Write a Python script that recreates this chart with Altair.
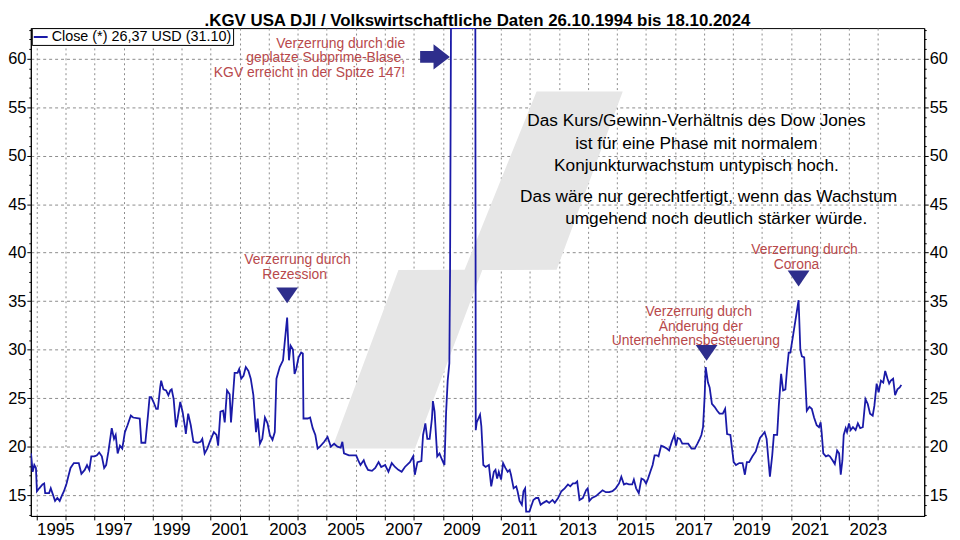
import altair as alt
import pandas as pd

FONT = "Liberation Sans"
LINE = "#1a1aa8"
NAVY = "#2e2e8c"
RED = "#b8494b"
GRID = "#8c8c8c"

TITLE = ".KGV USA DJI / Volkswirtschaftliche Daten 26.10.1994 bis 18.10.2024"
LEGEND_LABEL = "Close (*) 26,37 USD (31.10)"

# KGV series (decimal year, value)
years = [
    1994.807, 1994.864, 1994.921, 1994.977, 1995.011, 1995.091, 1995.204, 1995.261, 1995.295, 1995.431,
    1995.488, 1995.545, 1995.636, 1995.715, 1995.795, 1995.863, 1995.942, 1996.033, 1996.090, 1996.169,
    1996.283, 1996.453, 1996.544, 1996.658, 1996.737, 1996.817, 1996.885, 1996.998, 1997.078, 1997.157,
    1997.248, 1997.328, 1997.396, 1997.475, 1997.589, 1997.668, 1997.725, 1997.793, 1997.872, 1997.952,
    1998.043, 1998.133, 1998.247, 1998.327, 1998.554, 1998.610, 1998.747, 1998.837, 1998.894, 1998.951,
    1999.030, 1999.121, 1999.178, 1999.258, 1999.292, 1999.371, 1999.462, 1999.541, 1999.609, 1999.655,
    1999.723, 1999.802, 1999.859, 1999.950, 2000.030, 2000.120, 2000.143, 2000.223, 2000.313, 2000.404,
    2000.540, 2000.654, 2000.711, 2000.790, 2000.881, 2000.995, 2001.108, 2001.199, 2001.256, 2001.335,
    2001.426, 2001.483, 2001.562, 2001.653, 2001.699, 2001.755, 2001.824, 2001.925, 2001.982, 2002.050,
    2002.130, 2002.209, 2002.300, 2002.380, 2002.470, 2002.561, 2002.618, 2002.697, 2002.777, 2002.868,
    2002.959, 2003.038, 2003.129, 2003.208, 2003.265, 2003.379, 2003.492, 2003.549, 2003.634, 2003.697,
    2003.754, 2003.833, 2003.890, 2003.947, 2004.027, 2004.118, 2004.175, 2004.197, 2004.345, 2004.425,
    2004.515, 2004.606, 2004.685, 2004.765, 2004.912, 2005.026, 2005.083, 2005.139, 2005.253, 2005.367,
    2005.480, 2005.537, 2005.593, 2005.764, 2006.013, 2006.081, 2006.161, 2006.274, 2006.331, 2006.422,
    2006.558, 2006.671, 2006.785, 2006.876, 2007.012, 2007.125, 2007.239, 2007.352, 2007.466, 2007.580,
    2007.693, 2007.864, 2007.977, 2008.034, 2008.125, 2008.261, 2008.318, 2008.397, 2008.465, 2008.545,
    2008.624, 2008.658, 2008.715, 2008.806, 2008.885, 2008.964, 2009.055, 2009.112, 2009.167, 2009.224,
    2009.249, 2009.280, 2009.450, 2009.700, 2009.950, 2010.120, 2010.134, 2010.168, 2010.282, 2010.327,
    2010.395, 2010.474, 2010.587, 2010.667, 2010.758, 2010.814, 2010.871, 2010.928, 2011.007, 2011.076,
    2011.155, 2011.234, 2011.303, 2011.348, 2011.439, 2011.530, 2011.575, 2011.643, 2011.723, 2011.779,
    2011.836, 2011.870, 2011.984, 2012.063, 2012.120, 2012.211, 2012.290, 2012.370, 2012.461, 2012.574,
    2012.665, 2012.779, 2012.858, 2012.972, 2013.085, 2013.199, 2013.312, 2013.392, 2013.482, 2013.562,
    2013.630, 2013.710, 2013.823, 2013.937, 2013.993, 2014.050, 2014.141, 2014.277, 2014.391, 2014.504,
    2014.618, 2014.731, 2014.845, 2014.958, 2015.072, 2015.151, 2015.242, 2015.322, 2015.412, 2015.526,
    2015.583, 2015.662, 2015.753, 2015.844, 2015.923, 2016.003, 2016.071, 2016.150, 2016.230, 2016.298,
    2016.378, 2016.434, 2016.525, 2016.605, 2016.718, 2016.798, 2016.888, 2016.979, 2017.036, 2017.093,
    2017.172, 2017.252, 2017.343, 2017.456, 2017.570, 2017.683, 2017.774, 2017.854, 2017.910, 2017.967,
    2018.024, 2018.058, 2018.137, 2018.194, 2018.273, 2018.364, 2018.455, 2018.535, 2018.648, 2018.728,
    2018.796, 2018.909, 2019.023, 2019.102, 2019.216, 2019.329, 2019.409, 2019.477, 2019.557, 2019.670,
    2019.784, 2019.863, 2019.931, 2020.011, 2020.090, 2020.158, 2020.215, 2020.272, 2020.351, 2020.408,
    2020.521, 2020.578, 2020.658, 2020.726, 2020.805, 2020.862, 2020.919, 2020.976, 2021.066, 2021.150,
    2021.260, 2021.320, 2021.373, 2021.453, 2021.543, 2021.634, 2021.714, 2021.793, 2021.884, 2021.963,
    2022.020, 2022.054, 2022.111, 2022.201, 2022.281, 2022.338, 2022.429, 2022.508, 2022.588, 2022.656,
    2022.713, 2022.770, 2022.815, 2022.883, 2022.929, 2022.997, 2023.054, 2023.133, 2023.224, 2023.303,
    2023.383, 2023.473, 2023.564, 2023.644, 2023.723, 2023.814, 2023.871, 2023.950, 2024.018, 2024.098,
    2024.177, 2024.245, 2024.325, 2024.382, 2024.439, 2024.518, 2024.586, 2024.666, 2024.745, 2024.800,
]
kgv = [
    19.3, 17.4, 18.1, 17.8, 15.4, 15.7, 16.1, 16.2, 15.2, 15.2,
    15.7, 15.2, 14.4, 14.7, 14.4, 14.9, 15.4, 16.2, 16.9, 17.8,
    18.3, 18.3, 17.2, 17.6, 18.1, 17.6, 19.0, 19.0, 19.1, 19.4,
    19.0, 17.8, 18.1, 19.5, 21.9, 20.8, 21.2, 19.3, 20.1, 19.8,
    21.5, 22.2, 23.2, 23.0, 22.9, 20.4, 20.4, 23.2, 25.1, 25.1,
    24.6, 23.9, 23.9, 26.1, 26.8, 25.9, 25.8, 25.3, 25.8, 25.9,
    24.9, 22.0, 22.9, 24.6, 23.6, 21.9, 21.3, 23.4, 22.2, 20.5,
    20.4, 20.5, 20.8, 19.3, 19.8, 20.7, 21.5, 21.2, 20.1, 23.6,
    23.7, 22.5, 25.8, 25.4, 22.5, 24.7, 27.6, 27.6, 28.0, 27.0,
    27.3, 28.2, 27.8, 27.0, 25.3, 21.5, 22.9, 20.3, 20.8, 23.0,
    22.4, 21.2, 20.7, 21.5, 27.0, 28.2, 28.9, 30.7, 33.3, 28.9,
    30.4, 30.0, 27.5, 28.0, 29.2, 29.7, 29.6, 22.9, 22.9, 23.0,
    21.9, 21.2, 19.8, 20.0, 20.5, 21.0, 20.5, 20.0, 20.3, 20.0,
    19.9, 20.5, 19.3, 19.1, 19.1, 18.6, 18.1, 18.6, 18.1, 17.6,
    17.5, 17.8, 18.4, 17.9, 18.1, 17.4, 18.3, 17.9, 17.6, 17.4,
    17.9, 18.4, 19.0, 17.1, 18.4, 18.5, 21.2, 22.4, 20.8, 20.8,
    22.9, 24.7, 23.6, 19.0, 19.3, 18.7, 18.1, 23.5, 26.8, 28.6,
    38.2, 90.0, 147.0, 115.0, 95.0, 80.0, 21.7, 22.5, 23.3, 22.1,
    18.1, 17.9, 18.1, 15.9, 17.4, 17.6, 16.7, 17.4, 16.6, 18.3,
    17.8, 17.4, 17.6, 17.1, 15.7, 15.9, 15.4, 14.4, 14.0, 15.4,
    15.7, 13.3, 13.3, 14.0, 14.5, 14.7, 14.7, 14.0, 14.2, 14.4,
    14.2, 14.5, 14.2, 14.7, 15.4, 15.7, 16.1, 15.9, 16.2, 16.2,
    16.4, 14.5, 14.7, 15.5, 15.7, 14.4, 14.7, 14.9, 15.2, 15.5,
    15.3, 15.3, 15.4, 15.7, 16.2, 16.9, 16.1, 16.2, 16.1, 16.1,
    16.6, 15.7, 15.2, 16.7, 16.6, 16.2, 16.7, 17.4, 18.1, 19.1,
    19.1, 19.0, 20.1, 20.0, 19.8, 19.6, 20.5, 21.2, 20.1, 20.9,
    20.8, 20.3, 20.3, 20.3, 19.8, 19.8, 20.3, 20.8, 21.2, 22.0,
    25.3, 28.2, 26.6, 26.1, 24.4, 24.1, 23.7, 23.4, 23.4, 23.9,
    21.3, 21.2, 18.4, 18.1, 18.3, 18.3, 17.1, 18.4, 18.4, 19.0,
    19.5, 20.3, 20.9, 21.2, 21.5, 20.8, 18.8, 16.9, 19.1, 21.2,
    21.2, 24.2, 27.5, 25.8, 25.9, 28.0, 29.7, 29.7, 31.4, 33.0,
    35.1, 30.0, 29.3, 29.2, 23.7, 24.1, 23.9, 23.0, 22.2, 22.0,
    22.5, 21.5, 19.3, 19.0, 19.1, 19.0, 18.6, 18.2, 19.6, 19.3,
    17.1, 18.6, 21.2, 21.9, 21.5, 22.4, 21.7, 22.0, 21.7, 22.4,
    21.9, 22.0, 24.9, 24.4, 23.4, 23.2, 24.2, 26.5, 25.6, 26.8,
    26.6, 27.8, 27.0, 26.5, 26.8, 27.0, 25.3, 25.9, 26.1, 26.37,
]

# light grey watermark (two slanted bands), in data units
wm_level = [19.81, 38.21, 38.23, 56.62]
wm_left = [2005.18, 2007.47, 2009.75, 2012.23]
wm_right = [2008.04, 2010.36, 2012.92, 2015.20]

# marker triangles above the distortions
tri_year = [2003.634, 2018.09, 2021.26]
tri_value = [35.60, 29.67, 37.34]

# arrow pointing at the subprime spike
arrow_year = [2008.73]
arrow_value = [60.19]

# red notes, centred
note_text = ["Verzerrung durch", "Rezession",
             "Verzerrung durch", "Änderung der", "Unternehmensbesteuerung",
             "Verzerrung durch", "Corona"]
note_year = [2003.99, 2003.89, 2017.82, 2017.89, 2017.72, 2021.46, 2021.19]
note_value = [39.23, 37.70, 33.87, 32.38, 30.90, 40.26, 38.77]

# red note, right aligned
sub_text = ["Verzerrung durch die", "geplatze Subprime-Blase,", "KGV erreicht in der Spitze 147!"]
sub_year = [2007.70, 2007.70, 2007.70]
sub_value = [61.55, 60.02, 58.49]

# black comment block
box_text = ["Das Kurs/Gewinn-Verhältnis des Dow Jones",
            "ist für eine Phase mit normalem",
            "Konjunkturwachstum untypisch hoch.",
            "Das wäre nur gerechtfertigt, wenn das Wachstum",
            "umgehend noch deutlich stärker würde."]
box_year = [2017.74, 2017.74, 2017.74, 2018.16, 2018.42]
box_value = [53.55, 51.17, 48.95, 45.71, 43.50]

x_ticks = list(range(1995, 2025))
y_ticks = list(range(13, 64))

PLOT_W, PLOT_H = 901, 492

line_df = pd.DataFrame({"t": years, "v": kgv, "s": LEGEND_LABEL})
wm_df = pd.DataFrame({"wy": wm_level, "wx1": wm_left, "wx2": wm_right})
tri_df = pd.DataFrame({"t": tri_year, "v": tri_value})
arrow_df = pd.DataFrame({"t": arrow_year, "v": arrow_value})
note_df = pd.DataFrame({"t": note_year, "v": note_value, "txt": note_text})
sub_df = pd.DataFrame({"t": sub_year, "v": sub_value, "txt": sub_text})
box_df = pd.DataFrame({"t": box_year, "v": box_value, "txt": box_text})
title_df = pd.DataFrame({"txt": [TITLE]})

Y_DOMAIN = [12.85, 63.16]
xscale = alt.Scale(domain=[1994.8, 2025.59], nice=False, zero=False)
yscale = alt.Scale(domain=Y_DOMAIN, nice=False, zero=False)
# the series leaves the chart at the top (KGV up to 147): clamp it to the frame
yscale_line = alt.Scale(domain=Y_DOMAIN, nice=False, zero=False, clamp=True)

xaxis = alt.Axis(
    values=x_ticks, title=None,
    labelExpr="datum.value % 2 == 1 ? '' + datum.value : ''",
    labelAlign="left", labelPadding=2, labelFontSize=17, labelFont=FONT,
    labelColor="black", labelOverlap=False, labelFlush=False,
    tickSize=4, tickColor="black", domainColor="black",
    grid=True, gridColor=GRID, gridDash=[2, 3], gridWidth=1,
)

major = "datum.value % 5 === 0"


def yaxis(orient, grid):
    return alt.Axis(
        orient=orient, values=y_ticks, title=None,
        labelExpr="datum.value % 5 == 0 ? '' + datum.value : ''",
        labelPadding=1, labelFontSize=16.5, labelFont=FONT, labelColor="black",
        labelOverlap=False, labelFlush=False,
        tickSize={"condition": {"test": major, "value": 4}, "value": 2},
        tickColor="black", domainColor="black",
        grid=grid, gridColor=GRID, gridDash=[3, 3], gridWidth=1,
        gridOpacity={"condition": {"test": major, "value": 1}, "value": 0},
    )


def X(field):
    return alt.X(field, type="quantitative", scale=xscale, axis=xaxis)


def Y(field, axis=None, scale=yscale):
    return alt.Y(field, type="quantitative", scale=scale, axis=axis)


watermark = alt.Chart(wm_df).mark_area(orient="horizontal", color="#e6e6e6").encode(
    y=Y("wy"), x=X("wx1"), x2=alt.X2("wx2")
)

line = alt.Chart(line_df).mark_line(strokeWidth=1.8, clip=True).encode(
    x=X("t"), y=Y("v", yaxis("left", True), yscale_line),
    color=alt.Color("s:N", scale=alt.Scale(domain=[LEGEND_LABEL], range=[LINE]),
                    legend=alt.Legend(
                        orient="none", legendX=1, legendY=0, title=None,
                        strokeColor="black", fillColor="white", padding=1,
                        symbolType="stroke", symbolStrokeWidth=2, symbolSize=196,
                        labelFontSize=14.5, labelFont=FONT, labelColor="black",
                        labelLimit=400, labelOffset=3, cornerRadius=0,
                    )),
)

triangles = alt.Chart(tri_df).mark_point(
    shape="M-1,-0.727 L1,-0.727 L0,0.727 Z", filled=True, opacity=1,
    color=NAVY, size=484, strokeWidth=0,
).encode(x=X("t"), y=Y("v", yaxis("right", False)))

arrow = alt.Chart(arrow_df).mark_point(
    shape="M-1,-0.4 L-0.1,-0.4 L-0.1,-0.85 L1,0 L-0.1,0.85 L-0.1,0.4 L-1,0.4 Z",
    filled=True, opacity=1, color=NAVY, size=900, strokeWidth=0,
).encode(x=X("t"), y=Y("v"))

notes = alt.Chart(note_df).mark_text(
    align="center", baseline="middle", font=FONT, fontSize=14, color=RED,
).encode(x=X("t"), y=Y("v"), text="txt:N")

sub_notes = alt.Chart(sub_df).mark_text(
    align="right", baseline="middle", font=FONT, fontSize=14, color=RED,
).encode(x=X("t"), y=Y("v"), text="txt:N")

box = alt.Chart(box_df).mark_text(
    align="center", baseline="middle", font=FONT, fontSize=17.4, color="black",
).encode(x=X("t"), y=Y("v"), text="txt:N")

# chart title, centred just above the frame
title = alt.Chart(title_df).mark_text(
    align="center", baseline="alphabetic", font=FONT, fontSize=17,
    fontWeight="bold", color="black",
).encode(x=alt.value(PLOT_W / 2), y=alt.value(-2.5), text="txt:N")

chart = alt.layer(
    watermark, line, triangles, arrow, notes, sub_notes, box, title
).resolve_scale(y="independent").properties(
    width=PLOT_W, height=PLOT_H,
    autosize=alt.AutoSizeParams(type="none"),
    padding={"left": 23, "top": 18, "right": 28, "bottom": 22},
    background="white",
).configure_view(stroke="black", strokeWidth=1)

chart.save("out.html", embed_options={"renderer": "svg", "actions": False})
